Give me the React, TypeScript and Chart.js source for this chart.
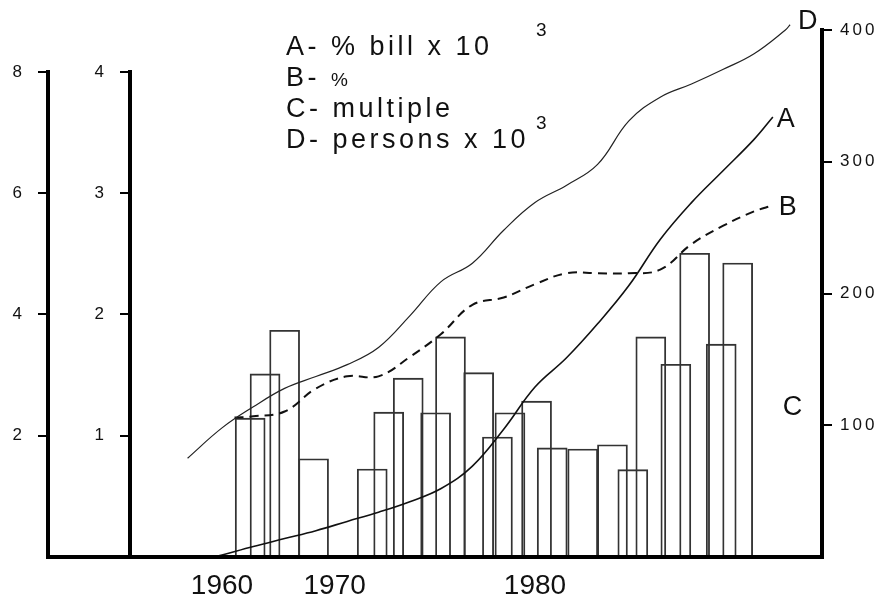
import React, { useEffect, useRef } from 'react';
import { Chart, registerables } from 'chart.js';
Chart.register(...registerables);

// Year labels as printed on the figure (the 1970 label sits left of its linear position)
const xTickValues = [1960, 1967.2, 1980];
const xTickLabels = ['1960', '1970', '1980'];

const yOuterTicks = [2, 4, 6, 8];
const yInnerTicks = [1, 2, 3, 4];
const yRightTicks = [100, 200, 300, 400];

// D - persons x 10^3 (right axis)
const dYears = [1957.8, 1960, 1962, 1964, 1966, 1968, 1970, 1972, 1974, 1976, 1978, 1980, 1982, 1984, 1986, 1988, 1990, 1992, 1994, 1996, 1996.3];
const dValues = [75, 98, 114, 128, 137, 146, 159, 183, 209, 223, 248, 269, 282, 298, 331, 349, 359, 370, 382, 400, 404];

// A - % bill x 10^3 (right axis)
const aYears = [1959.5, 1960, 1962, 1964, 1966, 1968, 1970, 1972, 1974, 1976, 1978, 1980, 1982, 1984, 1986, 1988, 1990, 1992, 1994, 1995.2];
const aValues = [0, 1.5, 8, 14, 20, 27, 34, 42, 52, 69, 97, 129, 151, 177, 206, 241, 269, 293, 317, 334];

// B - % (inner left axis, 0-4)
const bYears = [1960.8, 1962, 1964, 1966, 1968, 1970, 1972, 1974, 1976, 1978, 1980, 1982, 1984, 1986, 1988, 1990, 1992, 1994, 1995.2];
const bValues = [1.15, 1.16, 1.2, 1.39, 1.49, 1.49, 1.65, 1.84, 2.08, 2.14, 2.25, 2.34, 2.34, 2.34, 2.37, 2.58, 2.73, 2.85, 2.9];

// C - multiple (outer left axis, 0-8), overlapping bars
const cYears = [1961.8, 1962.75, 1964.0, 1965.85, 1969.6, 1970.65, 1971.9, 1973.65, 1974.6, 1976.4, 1977.6, 1978.4, 1980.1, 1981.1, 1983.05, 1984.95, 1986.25, 1987.4, 1989.0, 1990.2, 1991.9, 1992.95];
const cValues = [2.29, 3.02, 3.74, 1.62, 1.45, 2.39, 2.95, 2.38, 3.63, 3.04, 1.98, 2.38, 2.57, 1.8, 1.78, 1.85, 1.44, 3.63, 3.18, 5.01, 3.51, 4.85];

const legendLines = [
  { key: 'A- ', text: '% bill x 10', sup: '3', small: false },
  { key: 'B- ', text: '%', sup: '', small: true },
  { key: 'C- ', text: 'multiple', sup: '', small: false },
  { key: 'D- ', text: 'persons x 10', sup: '3', small: false },
];

const FONT = '"Liberation Sans", Arial, Helvetica, sans-serif';

const decor = {
  id: 'decor',
  afterDraw(chart: any) {
    const { ctx, chartArea, scales } = chart;
    const y1 = scales.y1, y2 = scales.y2, yR = scales.yR, x = scales.x;
    const base = chartArea.bottom;
    ctx.save();
    ctx.strokeStyle = '#000';
    ctx.lineWidth = 4;
    ctx.lineCap = 'square';
    ctx.beginPath();
    ctx.moveTo(y1.right, y1.getPixelForValue(yOuterTicks[yOuterTicks.length - 1]));
    ctx.lineTo(y1.right, base);
    ctx.moveTo(y2.right, y2.getPixelForValue(yInnerTicks[yInnerTicks.length - 1]));
    ctx.lineTo(y2.right, base);
    ctx.moveTo(yR.left, yR.getPixelForValue(yRightTicks[yRightTicks.length - 1]));
    ctx.lineTo(yR.left, base);
    ctx.moveTo(y1.right, base);
    ctx.lineTo(yR.left, base);
    ctx.stroke();

    ctx.fillStyle = '#111';
    ctx.textAlign = 'left';

    // right-axis tick labels (letter-spaced, as on the figure)
    ctx.textBaseline = 'middle';
    ctx.font = `17px ${FONT}`;
    (ctx as any).letterSpacing = '3px';
    yRightTicks.forEach((v) => {
      ctx.fillText(String(v), yR.left + 18, yR.getPixelForValue(v));
    });

    // legend block
    ctx.textBaseline = 'alphabetic';
    (ctx as any).letterSpacing = '3.5px';
    const lx = chartArea.left + 156;
    const ly0 = 55;
    legendLines.forEach((l, i) => {
      const y = ly0 + i * 31;
      ctx.font = `27px ${FONT}`;
      ctx.fillText(l.key, lx, y);
      const w = ctx.measureText(l.key).width;
      if (l.small) ctx.font = `19px ${FONT}`;
      ctx.fillText(l.text, lx + w, y);
      if (l.sup) {
        ctx.font = `19px ${FONT}`;
        ctx.fillText(l.sup, lx + 250, y - 19);
      }
    });

    // series letters
    ctx.font = `27px ${FONT}`;
    (ctx as any).letterSpacing = '0px';
    const endLabel = (t: string, xs: number[], vs: number[], sc: any, dx: number, dy: number) => {
      const px = x.getPixelForValue(xs[xs.length - 1]);
      const py = sc.getPixelForValue(vs[vs.length - 1]);
      ctx.fillText(t, px + dx, py + dy);
    };
    endLabel('D', dYears, dValues, yR, 8, 4);
    endLabel('A', aYears, aValues, yR, 4, 10);
    endLabel('B', bYears, bValues, y2, 6, 10);
    ctx.fillText('C', x.getPixelForValue(cYears[cYears.length - 1]) + 45, y1.getPixelForValue(2.5) + 10);
    ctx.restore();
  },
};

export default function App() {
  const ref = useRef<HTMLCanvasElement | null>(null);
  useEffect(() => {
    if (!ref.current) return;
    const toXY = (xs: number[], vs: number[]) => xs.map((v, i) => ({ x: v, y: vs[i] }));
    const setTicks = (vals: number[]) => (s: any) => {
      s.ticks = vals.map((v) => ({ value: v }));
    };
    const chart = new Chart(ref.current, {
      type: 'bar',
      data: {
        datasets: [
          {
            type: 'line',
            label: 'D',
            data: toXY(dYears, dValues),
            yAxisID: 'yR',
            borderColor: '#222',
            borderWidth: 1.2,
            pointRadius: 0,
            tension: 0.4,
            fill: false,
            clip: false,
          } as any,
          {
            type: 'line',
            label: 'A',
            data: toXY(aYears, aValues),
            yAxisID: 'yR',
            borderColor: '#111',
            borderWidth: 1.6,
            pointRadius: 0,
            tension: 0.4,
            fill: false,
          },
          {
            type: 'line',
            label: 'B',
            data: toXY(bYears, bValues),
            yAxisID: 'y2',
            borderColor: '#111',
            borderWidth: 2,
            borderDash: [9, 6],
            pointRadius: 0,
            tension: 0.4,
            fill: false,
          },
          {
            type: 'bar',
            label: 'C',
            data: toXY(cYears, cValues),
            yAxisID: 'y1',
            backgroundColor: 'rgba(0,0,0,0)',
            borderColor: '#333',
            borderWidth: 1.2,
            barThickness: 30,
          },
        ],
      },
      options: {
        animation: false,
        responsive: true,
        maintainAspectRatio: false,
        layout: { padding: { top: 15, left: 0, right: 0, bottom: 0 } },
        plugins: { legend: { display: false }, tooltip: { enabled: false } },
        scales: {
          x: {
            type: 'linear',
            min: 1954.12,
            max: 1998.34,
            offset: false,
            grid: { display: false, drawTicks: false },
            border: { display: false },
            afterBuildTicks: setTicks(xTickValues),
            afterFit: (s: any) => {
              s.height = 52;
              s.paddingLeft = 0;
              s.paddingRight = 0;
            },
            ticks: {
              callback: (_v: any, i: number) => xTickLabels[i],
              font: { family: FONT, size: 28 },
              color: '#111',
              padding: 12,
              maxRotation: 0,
              autoSkip: false,
            },
          },
          y1: {
            type: 'linear',
            position: 'left',
            weight: 2,
            min: 0,
            max: 8.94,
            grid: { drawOnChartArea: false, drawTicks: true, tickLength: 10, color: '#000', lineWidth: 2 },
            border: { display: false },
            afterBuildTicks: setTicks(yOuterTicks),
            afterFit: (s: any) => {
              s.width = 48;
              s.paddingTop = 0;
              s.paddingBottom = 0;
            },
            ticks: { font: { family: FONT, size: 17 }, color: '#111', padding: 16 },
          },
          y2: {
            type: 'linear',
            position: 'left',
            weight: 1,
            min: 0,
            max: 4.47,
            grid: { drawOnChartArea: false, drawTicks: true, tickLength: 10, color: '#000', lineWidth: 2 },
            border: { display: false },
            afterBuildTicks: setTicks(yInnerTicks),
            afterFit: (s: any) => {
              s.width = 82;
              s.paddingTop = 0;
              s.paddingBottom = 0;
            },
            ticks: { font: { family: FONT, size: 17 }, color: '#111', padding: 16 },
          },
          yR: {
            type: 'linear',
            position: 'right',
            min: 0,
            max: 411.39,
            grid: { drawOnChartArea: false, drawTicks: true, tickLength: 10, color: '#000', lineWidth: 2 },
            border: { display: false },
            afterBuildTicks: setTicks(yRightTicks),
            afterFit: (s: any) => {
              s.width = 69;
              s.paddingTop = 0;
              s.paddingBottom = 0;
            },
            ticks: { display: false },
          },
        },
      },
      plugins: [decor],
    });
    return () => chart.destroy();
  }, []);
  return (
    <div style={{ position: 'fixed', left: 0, top: 0, width: 891, height: 609, background: '#fff' }}>
      <canvas ref={ref} style={{ display: 'block' }} />
    </div>
  );
}
